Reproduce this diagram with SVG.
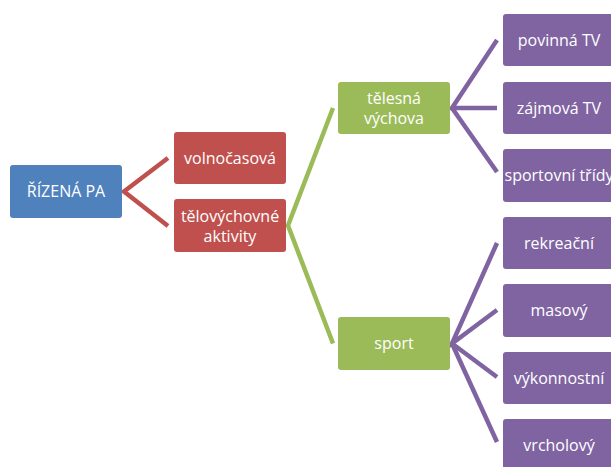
<svg xmlns="http://www.w3.org/2000/svg" width="611" height="467" viewBox="0 0 611 467">
<style>
.n rect{rx:3;ry:3}
.t{font-family:"Open Sans","Liberation Sans",sans-serif;font-size:16px;fill:#fff;text-anchor:middle}
.blue rect{fill:#4F81BD}
.red rect{fill:#C0504D}
.green rect{fill:#9BBB59}
.purple rect{fill:#8064A2}
.c{fill:none;stroke-width:4.5;stroke-linejoin:miter}
</style>
<rect width="611" height="467" fill="#fff"/>
<g id="connectors">
<polyline class="c" stroke="#C0504D" points="168,158 124,191.5 168,226"/>
<polyline class="c" stroke="#9BBB59" points="333,108 288,225.5 333,343.5"/>
<polyline class="c" stroke="#8064A2" points="497,40 452,108 497,108"/>
<polyline class="c" stroke="#8064A2" points="452,108 497,172"/>
<polyline class="c" stroke="#8064A2" points="497,243 452,343.5 497,310"/>
<polyline class="c" stroke="#8064A2" points="452,343.5 497,377"/>
<polyline class="c" stroke="#8064A2" points="452,343.5 497,442"/>
</g>
<g id="n-rizena" class="n blue"><rect x="10" y="165" width="112" height="53"/><text class="t" x="66" y="197">ŘÍZENÁ PA</text></g>
<g id="n-volnocasova" class="n red"><rect x="174" y="132" width="112" height="52"/><text class="t" x="230" y="164">volnočasová</text></g>
<g id="n-telovychovne" class="n red"><rect x="174" y="199" width="112" height="53"/><text class="t" x="230" y="221.5">tělovýchovné</text><text class="t" x="230" y="241.5">aktivity</text></g>
<g id="n-telesna" class="n green"><rect x="338" y="82" width="112" height="52"/><text class="t" x="394" y="103.5">tělesná</text><text class="t" x="394" y="123.5">výchova</text></g>
<g id="n-sport" class="n green"><rect x="338" y="317" width="112" height="53"/><text class="t" x="394" y="349">sport</text></g>
<g id="n-povinna" class="n purple"><rect x="503" y="14" width="112" height="52"/><text class="t" x="559" y="46">povinná TV</text></g>
<g id="n-zajmova" class="n purple"><rect x="503" y="82" width="112" height="52"/><text class="t" x="559" y="114">zájmová TV</text></g>
<g id="n-sportovni" class="n purple"><rect x="503" y="149" width="112" height="53"/><text class="t" x="559" y="181">sportovní třídy</text></g>
<g id="n-rekreacni" class="n purple"><rect x="503" y="217" width="112" height="52"/><text class="t" x="559" y="249">rekreační</text></g>
<g id="n-masovy" class="n purple"><rect x="503" y="284" width="112" height="53"/><text class="t" x="559" y="316">masový</text></g>
<g id="n-vykonnostni" class="n purple"><rect x="503" y="352" width="112" height="52"/><text class="t" x="559" y="384">výkonnostní</text></g>
<g id="n-vrcholovy" class="n purple"><rect x="503" y="419" width="112" height="53"/><text class="t" x="559" y="451">vrcholový</text></g>
</svg>
